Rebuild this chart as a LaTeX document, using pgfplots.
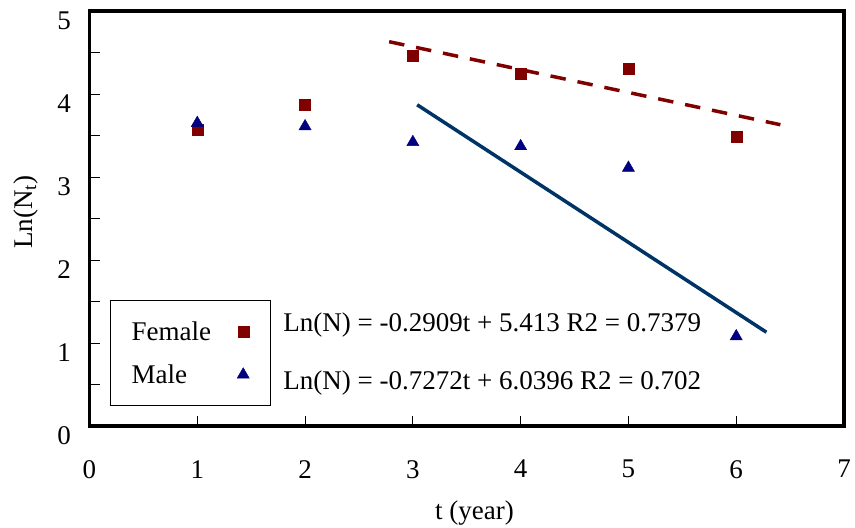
\documentclass[border=0pt]{standalone}
\usepackage{fontspec}
\setmainfont{Liberation Serif}
\usepackage{pgfplots}
\pgfplotsset{compat=1.18}

\definecolor{femred}{HTML}{800000}
\definecolor{malenavy}{HTML}{000080}
\definecolor{maleline}{HTML}{003366}
\newcommand{\chartfont}{\fontsize{27bp}{32bp}\selectfont}

\begin{document}
\begin{tikzpicture}
\begin{axis}[
  at={(0,0)}, anchor=south west,
  scale only axis, width=754.5bp, height=415bp,
  xmin=0, xmax=7, ymin=0, ymax=5,
  axis line style={line width=3.5bp, black},
  xtick={0,...,7}, ytick={0,...,5},
  minor ytick={0.5,1.5,...,4.5},
  tick pos=left, tick align=inside,
  major tick length=10bp, minor tick length=10bp,
  every tick/.style={black, line width=1bp},
  every minor tick/.style={black, line width=1bp},
  /pgf/number format/assume math mode=true,
  every tick label/.append style={font=\chartfont},
  xticklabel style={yshift=-30.7bp},
  yticklabel style={xshift=-15bp, yshift=-9.3bp},
  label style={font=\chartfont},
  xlabel={t (year)}, ylabel={Ln(N\textsubscript{t})},
  xlabel style={at={(axis description cs:0.5103,-0.209)}, anchor=center},
  ylabel style={at={(axis description cs:-0.0842,0.5157)}, anchor=center},
  legend plot pos=right,
  legend cell align=left,
  legend style={at={(axis description cs:0.0272,0.3036)}, anchor=north west,
    draw=black, line width=1.3bp, fill=white, font=\chartfont,
    inner xsep=21bp, inner ysep=22bp, row sep=25bp, column sep=26bp,
    nodes={inner sep=0bp, text height=18bp, text depth=0bp}},
]

% observed values
\addplot[only marks, mark=square*, mark size=5.5bp, color=femred, line width=0.4bp]
  table {
  x y
  1 3.57
  2 3.87
  3 4.46
  4 4.25
  5 4.30
  6 3.48
  };
\addlegendentry{Female}

\addplot[only marks, mark=triangle*, mark size=7bp, color=malenavy, line width=0.4bp]
  table {
  x y
  1 3.65
  2 3.61
  3 3.42
  4 3.37
  5 3.11
  6 1.08
  };
\addlegendentry{Male}

% linear trends
\addplot[femred, line width=3.5bp, dash pattern=on 15.5bp off 12bp, forget plot]
  coordinates {(2.78,4.63) (6.41,3.63)};
\addplot[maleline, line width=3.5bp, forget plot]
  coordinates {(3.04,3.87) (6.28,1.13)};

\node[anchor=base west, inner sep=0pt, font=\chartfont] at (axis cs:1.798,1.133)
  {Ln(N) = -0.2909t + 5.413 R2 = 0.7379};
\node[anchor=base west, inner sep=0pt, font=\chartfont] at (axis cs:1.798,0.434)
  {Ln(N) = -0.7272t + 6.0396 R2 = 0.702};
\end{axis}
\pgfresetboundingbox
\path[use as bounding box] (-89.5bp,-102bp) rectangle (765.5bp,426bp);
\end{tikzpicture}
\end{document}
